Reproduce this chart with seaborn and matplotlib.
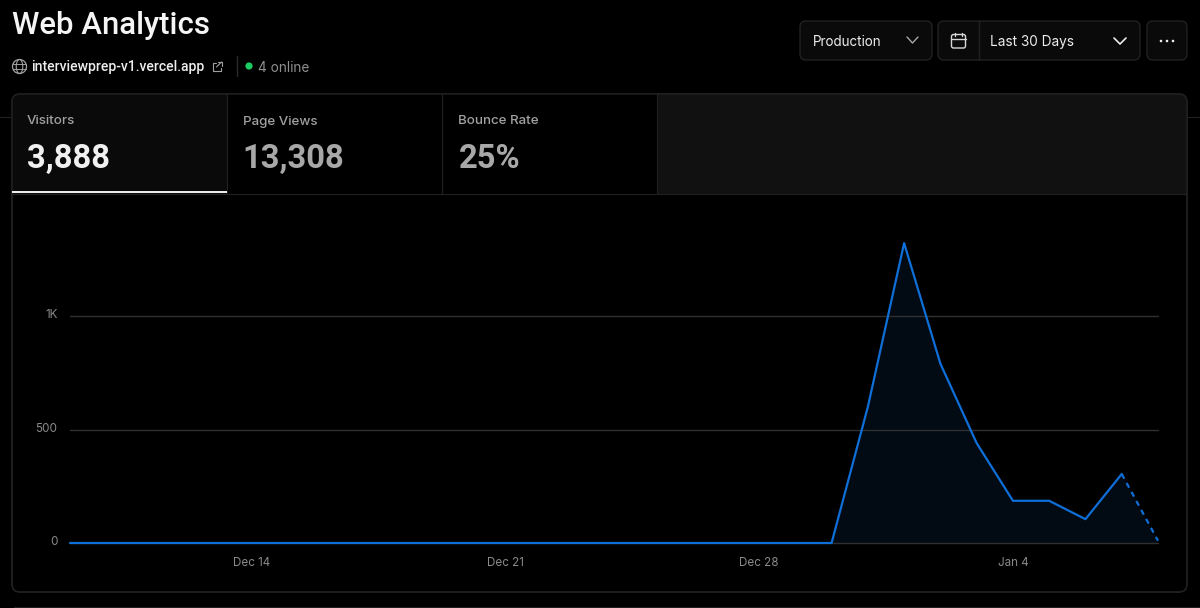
import matplotlib
matplotlib.use("Agg")
import matplotlib.pyplot as plt
import matplotlib.dates as mdates
from matplotlib.patches import FancyBboxPatch, Rectangle, Circle, Ellipse
from matplotlib.transforms import ScaledTranslation
import seaborn as sns
import pandas as pd

# visitors per day
days = pd.date_range("2024-12-09", "2025-01-08", freq="D")
visitors = [0] * 22 + [600, 1321, 790, 440, 186, 186, 105, 304, 10]

tick_days = ["2024-12-14", "2024-12-21", "2024-12-28", "2025-01-04"]
tick_names = ["Dec 14", "Dec 21", "Dec 28", "Jan 4"]
y_ticks = [0, 500, 1000]
y_names = ["0", "500", "1K"]

tab_names = ["Visitors", "Page Views", "Bounce Rate"]
tab_values = ["3,888", "13,308", "25%"]

W, H = 1200, 608
BG = "#000000"
LINE = "#0f6fd8"
BORDER = "#212121"
TIGHT = ["Roboto", "DejaVu Sans"]

sns.set_theme(style="dark")
plt.rcParams["font.family"] = ["Inter", "DejaVu Sans"]

fig = plt.figure(figsize=(W / 100, H / 100), dpi=100, facecolor=BG)

# the page around the chart, in pixel coordinates
ui = fig.add_axes([0, 0, 1, 1], zorder=0)
ui.set_xlim(0, W)
ui.set_ylim(H, 0)
ui.axis("off")


def box(x0, y0, x1, y1, fc="none", ec=BORDER, r=6, lw=1.0, z=1):
    ui.add_patch(FancyBboxPatch((x0, y0), x1 - x0, y1 - y0, boxstyle=f"round,pad=0,rounding_size={r}",
                                fc=fc, ec=ec, lw=lw, zorder=z))


def stroke(xs, ys, color="#e6e6e6", lw=1.0, z=4):
    ui.plot(xs, ys, color=color, lw=lw, zorder=z, solid_capstyle="round")


# faint rules behind the panel
stroke([0, 12], [117, 117], BORDER, 0.8, 0)
stroke([1187, 1200], [117, 117], BORDER, 0.8, 0)
stroke([14, 1200], [606.5, 606.5], BORDER, 0.8, 0)

# header
ui.text(12, 34.5, "Web Analytics", color="#f5f5f5", fontsize=22.4, fontweight="medium", va="baseline", family=TIGHT)
ui.add_patch(Circle((19.5, 66.5), 7, fc="none", ec="#a0a0a0", lw=0.9))
ui.add_patch(Ellipse((19.5, 66.5), 6.5, 14, fc="none", ec="#a0a0a0", lw=0.8))
stroke([13, 26], [64, 64], "#a0a0a0", 0.7)
stroke([13, 26], [69, 69], "#a0a0a0", 0.7)
ui.text(31, 71.5, "interviewprep-v1.vercel.app", color="#ededed", fontsize=10.1, fontweight="medium", va="baseline", family=TIGHT)
stroke([216, 212.5, 212.5, 221, 221], [62.5, 62.5, 71, 71, 67.5], "#a0a0a0", 0.8)
stroke([216.5, 221.5], [67, 62], "#a0a0a0", 0.8)
stroke([218, 221.5, 221.5], [62, 62, 65.5], "#a0a0a0", 0.8)
stroke([237, 237], [56, 76], "#2a2a2a", 1.0)
ui.add_patch(Circle((249, 66), 3.6, fc="#1ccb62", ec="none", zorder=3))
ui.text(258.5, 71.5, "4 online", color="#8f8f8f", fontsize=9.8, va="baseline")

# controls top right
box(800, 21, 932, 60, fc="#0a0a0a")
ui.text(812.5, 45.5, "Production", color="#ededed", fontsize=9.7, va="baseline")
stroke([907, 912.5, 918], [37, 43, 37], "#a8a8a8", 1.0)
box(938, 21, 1140, 60, fc="#0a0a0a")
stroke([978.5, 978.5], [21, 60], BORDER, 1.0)
box(951.5, 34.5, 965.5, 48, ec="#d8d8d8", r=2, lw=1.0, z=4)
stroke([951.5, 965.5], [39, 39], "#d8d8d8", 1.0)
stroke([955, 955], [33, 36], "#d8d8d8", 1.0)
stroke([962, 962], [33, 36], "#d8d8d8", 1.0)
ui.text(990.5, 46, "Last 30 Days", color="#ededed", fontsize=9.8, va="baseline")
stroke([1114, 1120, 1126], [38, 44, 38], "#ededed", 1.2)
box(1147, 21, 1187, 60, fc="#0a0a0a")
for cx in (1161, 1167, 1173):
    ui.add_patch(Circle((cx, 41), 1.3, fc="#ededed", ec="none", zorder=4))

# panel and tabs
box(12, 94, 1187, 592, fc=BG, r=8, z=1)
clip = FancyBboxPatch((12, 94), 1175, 498, boxstyle="round,pad=0,rounding_size=8", fc="none", ec="none")
ui.add_patch(clip)
for x0, x1, col in [(12, 227, "#0a0a0a"), (227, 657, BG), (657, 1187, "#111111")]:
    r = Rectangle((x0, 94), x1 - x0, 99.5, fc=col, ec="none", zorder=1.5)
    ui.add_patch(r)
    r.set_clip_path(clip)
box(12, 94, 1187, 592, r=8, z=3)
stroke([12, 1187], [193.5, 193.5], BORDER, 0.8, 2)
for x in (227, 442, 657):
    stroke([x, x], [94, 193], BORDER, 0.8, 2)
ui.plot([12, 227], [192, 192], color="#f2f2f2", lw=1.4, zorder=5, solid_capstyle="butt")

label_x = [27, 243, 458.5]
value_x = [27, 242, 458.5]
for i, (name, value) in enumerate(zip(tab_names, tab_values)):
    ui.text(label_x[i], 124.5, name, color="#a1a1a1", fontsize=9.6, fontweight="medium", va="baseline")
    ui.text(value_x[i], 168, value, color="#f0f0f0" if i == 0 else "#a8a8a8", fontsize=23.6, fontweight="bold", va="baseline", family=TIGHT)

# the chart itself
px_left, px_right, px_top, px_bottom = 70, 1158, 194, 543
ax = fig.add_axes([px_left / W, 1 - px_bottom / H, (px_right - px_left) / W, (px_bottom - px_top) / H], zorder=2)
ax.patch.set_alpha(0)
for s in ax.spines.values():
    s.set_visible(False)

df = pd.DataFrame({"day": days, "visitors": visitors})
solid = df.iloc[:-1]
tail = df.iloc[-2:]

ax.fill_between(df["day"], df["visitors"], 0, color="#020a14", lw=0, zorder=1)
for y in y_ticks:
    ax.axhline(y, color="#303030", lw=1.0, zorder=1.5, clip_on=False)
sns.lineplot(data=solid, x="day", y="visitors", color=LINE, lw=1.6, ax=ax, zorder=3, clip_on=False)
sns.lineplot(data=tail, x="day", y="visitors", color=LINE, lw=1.6, ax=ax, zorder=3, clip_on=False,
             linestyle=(0, (2.4, 2.2)))

ax.set_xlim(days[0], days[-1])
ax.set_ylim(0, (px_bottom - px_top) / 0.227)
ax.set_xlabel("")
ax.set_ylabel("")
ax.grid(False)
ax.set_xticks(mdates.date2num(pd.to_datetime(tick_days)), tick_names)
ax.set_yticks(y_ticks, y_names)
ax.tick_params(axis="both", length=0, labelcolor="#8a8a8a", labelsize=8.4)
ax.tick_params(axis="x", pad=10)
ax.tick_params(axis="y", pad=9)
# y labels sit slightly above their gridlines
for lab in ax.get_yticklabels():
    lab.set_transform(lab.get_transform() + ScaledTranslation(0, 1.5 / 72, fig.dpi_scale_trans))

fig.savefig("out.png", dpi=100, facecolor=BG)
